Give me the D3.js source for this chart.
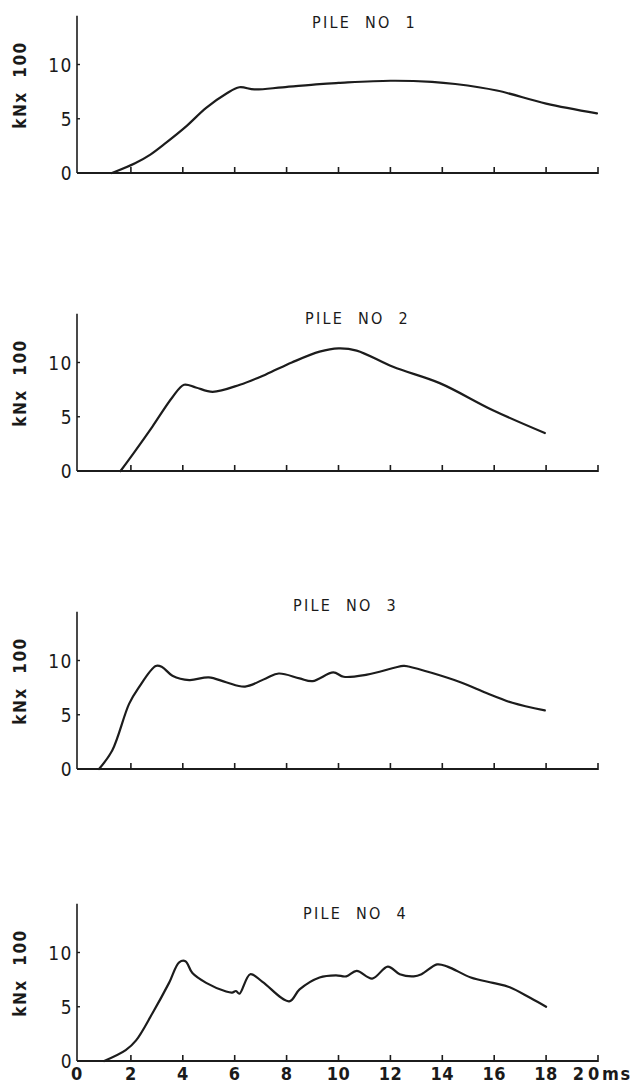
<!DOCTYPE html>
<html>
<head>
<meta charset="utf-8">
<script src="https://cdn.jsdelivr.net/npm/d3@7"></script>
<style>
  html, body { margin: 0; padding: 0; background: #fff; }
  svg { display: block; }
  .lbl { font-family: "Liberation Sans Narrow", "DejaVu Sans Condensed", "Liberation Sans", sans-serif; fill: #1a1a1a; }
</style>
</head>
<body>
<svg id="chart" width="639" height="1085"></svg>
<script>
// ---- Data (time in ms, force in kN x 100) ----
const pileTitles = ["PILE  NO  1", "PILE  NO  2", "PILE  NO  3", "PILE  NO  4"];
const xTicks = [0, 2, 4, 6, 8, 10, 12, 14, 16, 18, 20];
const yTicks = [0, 5, 10];

const pile1T = [1.27, 2.16, 2.75, 3.36, 4.13, 4.9, 5.67, 6.18, 6.76, 7.84, 9.27, 10.0, 12.0, 13.6, 14.5, 16.1, 18.0, 19.96];
const pile1V = [0, 0.9, 1.7, 2.8, 4.3, 6.0, 7.3, 7.9, 7.7, 7.9, 8.2, 8.3, 8.5, 8.4, 8.2, 7.6, 6.4, 5.5];

const pile2T = [1.6, 2.12, 2.83, 3.6, 4.05, 4.5, 5.15, 6.2, 7.2, 8.2, 9.27, 10.0, 10.7, 12.1, 13.9, 15.95, 17.95];
const pile2V = [0, 1.7, 4.1, 6.8, 7.95, 7.7, 7.3, 7.95, 8.9, 10.0, 11.0, 11.3, 11.1, 9.6, 8.1, 5.6, 3.5];

const pile3T = [0.77, 1.28, 1.93, 2.3, 2.96, 3.2, 3.6, 4.25, 5.0, 5.67, 6.4, 7.2, 7.7, 8.5, 9.0, 9.8, 10.2, 11.1, 12.5, 12.7, 14.7, 15.7, 16.7, 17.95];
const pile3V = [0, 1.7, 6.0, 7.5, 9.5, 9.4, 8.6, 8.2, 8.45, 8.0, 7.6, 8.35, 8.8, 8.35, 8.1, 8.9, 8.5, 8.7, 9.5, 9.45, 8.0, 7.0, 6.1, 5.4];

const pile4T = [0.97, 1.8, 2.2, 2.83, 3.47, 3.86, 4.1, 4.37, 4.9, 5.67, 5.9, 6.05, 6.18, 6.6, 7.07, 8.1, 8.5, 9.27, 9.9, 10.3, 10.7, 11.3, 11.9, 12.36, 12.9, 13.2, 13.8, 14.2, 15.1, 15.95, 16.6, 17.4, 18.0];
const pile4V = [0, 1.0, 1.9, 4.4, 7.2, 9.1, 9.2, 8.1, 7.2, 6.4, 6.3, 6.45, 6.2, 8.0, 7.3, 5.5, 6.6, 7.7, 7.9, 7.8, 8.3, 7.6, 8.7, 8.0, 7.8, 8.0, 8.9, 8.7, 7.7, 7.2, 6.8, 5.8, 5.0];

const seriesT = [pile1T, pile2T, pile3T, pile4T];
const seriesV = [pile1V, pile2V, pile3V, pile4V];

// ---- Layout ----
const baselines = [173, 471, 769, 1061];
const titleX = [312, 305, 293, 303];
const titleY = [28, 324, 611, 919];
const unitPx = 10.85;
const yMax = 14.5;

const svg = d3.select("#chart");
const x = d3.scaleLinear().domain([0, 20]).range([79, 598]);
const ink = "#1c1c1c";

seriesT.forEach((ts, i) => {
  const base = baselines[i];
  const y = d3.scaleLinear().domain([0, yMax]).range([base, base - yMax * unitPx]);
  const g = svg.append("g");

  // x axis line with upward ticks
  g.append("line").attr("x1", x(0) - 2).attr("x2", x(20)).attr("y1", y(0)).attr("y2", y(0))
    .attr("stroke", ink).attr("stroke-width", 1.8);
  g.selectAll(".xt").data(xTicks.filter(d => d > 0)).join("line")
    .attr("x1", d => x(d)).attr("x2", d => x(d))
    .attr("y1", y(0) + 1).attr("y2", y(0) - 6)
    .attr("stroke", ink).attr("stroke-width", 1.6);

  // y axis line
  g.append("line").attr("x1", x(0) - 2).attr("x2", x(0) - 2).attr("y1", y(0)).attr("y2", y(yMax))
    .attr("stroke", ink).attr("stroke-width", 1.6);
  g.selectAll(".yt").data(yTicks.filter(d => d > 0)).join("line")
    .attr("x1", x(0) - 2).attr("x2", x(0) + 1)
    .attr("y1", d => y(d)).attr("y2", d => y(d))
    .attr("stroke", ink).attr("stroke-width", 1.4);
  g.selectAll(".yl").data(yTicks).join("text")
    .attr("class", "lbl")
    .attr("x", x(0) - 6).attr("y", d => y(d) + 7)
    .attr("text-anchor", "end")
    .attr("font-size", 19).attr("letter-spacing", 1.5)
    .text(d => d);

  // y axis title
  g.append("text").attr("class", "lbl")
    .attr("transform", `translate(26, ${y(0) - 88}) rotate(-90)`)
    .attr("text-anchor", "middle")
    .attr("font-size", 17).attr("font-weight", "bold").attr("letter-spacing", 1.5)
    .attr("xml:space", "preserve").style("white-space", "pre")
    .text("kNx  100");

  // panel title
  g.append("text").attr("class", "lbl")
    .attr("x", titleX[i]).attr("y", titleY[i])
    .attr("font-size", 16).attr("letter-spacing", 2.3)
    .attr("xml:space", "preserve").style("white-space", "pre")
    .text(pileTitles[i]);

  // curve
  const pts = ts.map((t, k) => [t, seriesV[i][k]]);
  const line = d3.line().x(d => x(d[0])).y(d => y(d[1])).curve(d3.curveCatmullRom.alpha(0.5));
  g.append("path").attr("d", line(pts))
    .attr("fill", "none").attr("stroke", ink).attr("stroke-width", 2.2)
    .attr("stroke-linejoin", "round").attr("stroke-linecap", "round");

  // bottom axis labels on last panel
  if (i === seriesT.length - 1) {
    g.selectAll(".xl").data(xTicks).join("text")
      .attr("class", "lbl")
      .attr("x", d => d === 20 ? x(d) - 10 : x(d) - (d === 0 ? 2 : 0))
      .attr("y", y(0) + 19)
      .attr("text-anchor", "middle")
      .attr("font-size", 18).attr("font-weight", "bold").attr("letter-spacing", d => d === 20 ? 4 : 0.5)
      .text(d => d);
    g.append("text").attr("class", "lbl")
      .attr("x", x(20) + 4).attr("y", y(0) + 19)
      .attr("font-size", 18).attr("font-weight", "bold").attr("letter-spacing", 1.5)
      .text("ms");
  }
});
</script>
</body>
</html>
